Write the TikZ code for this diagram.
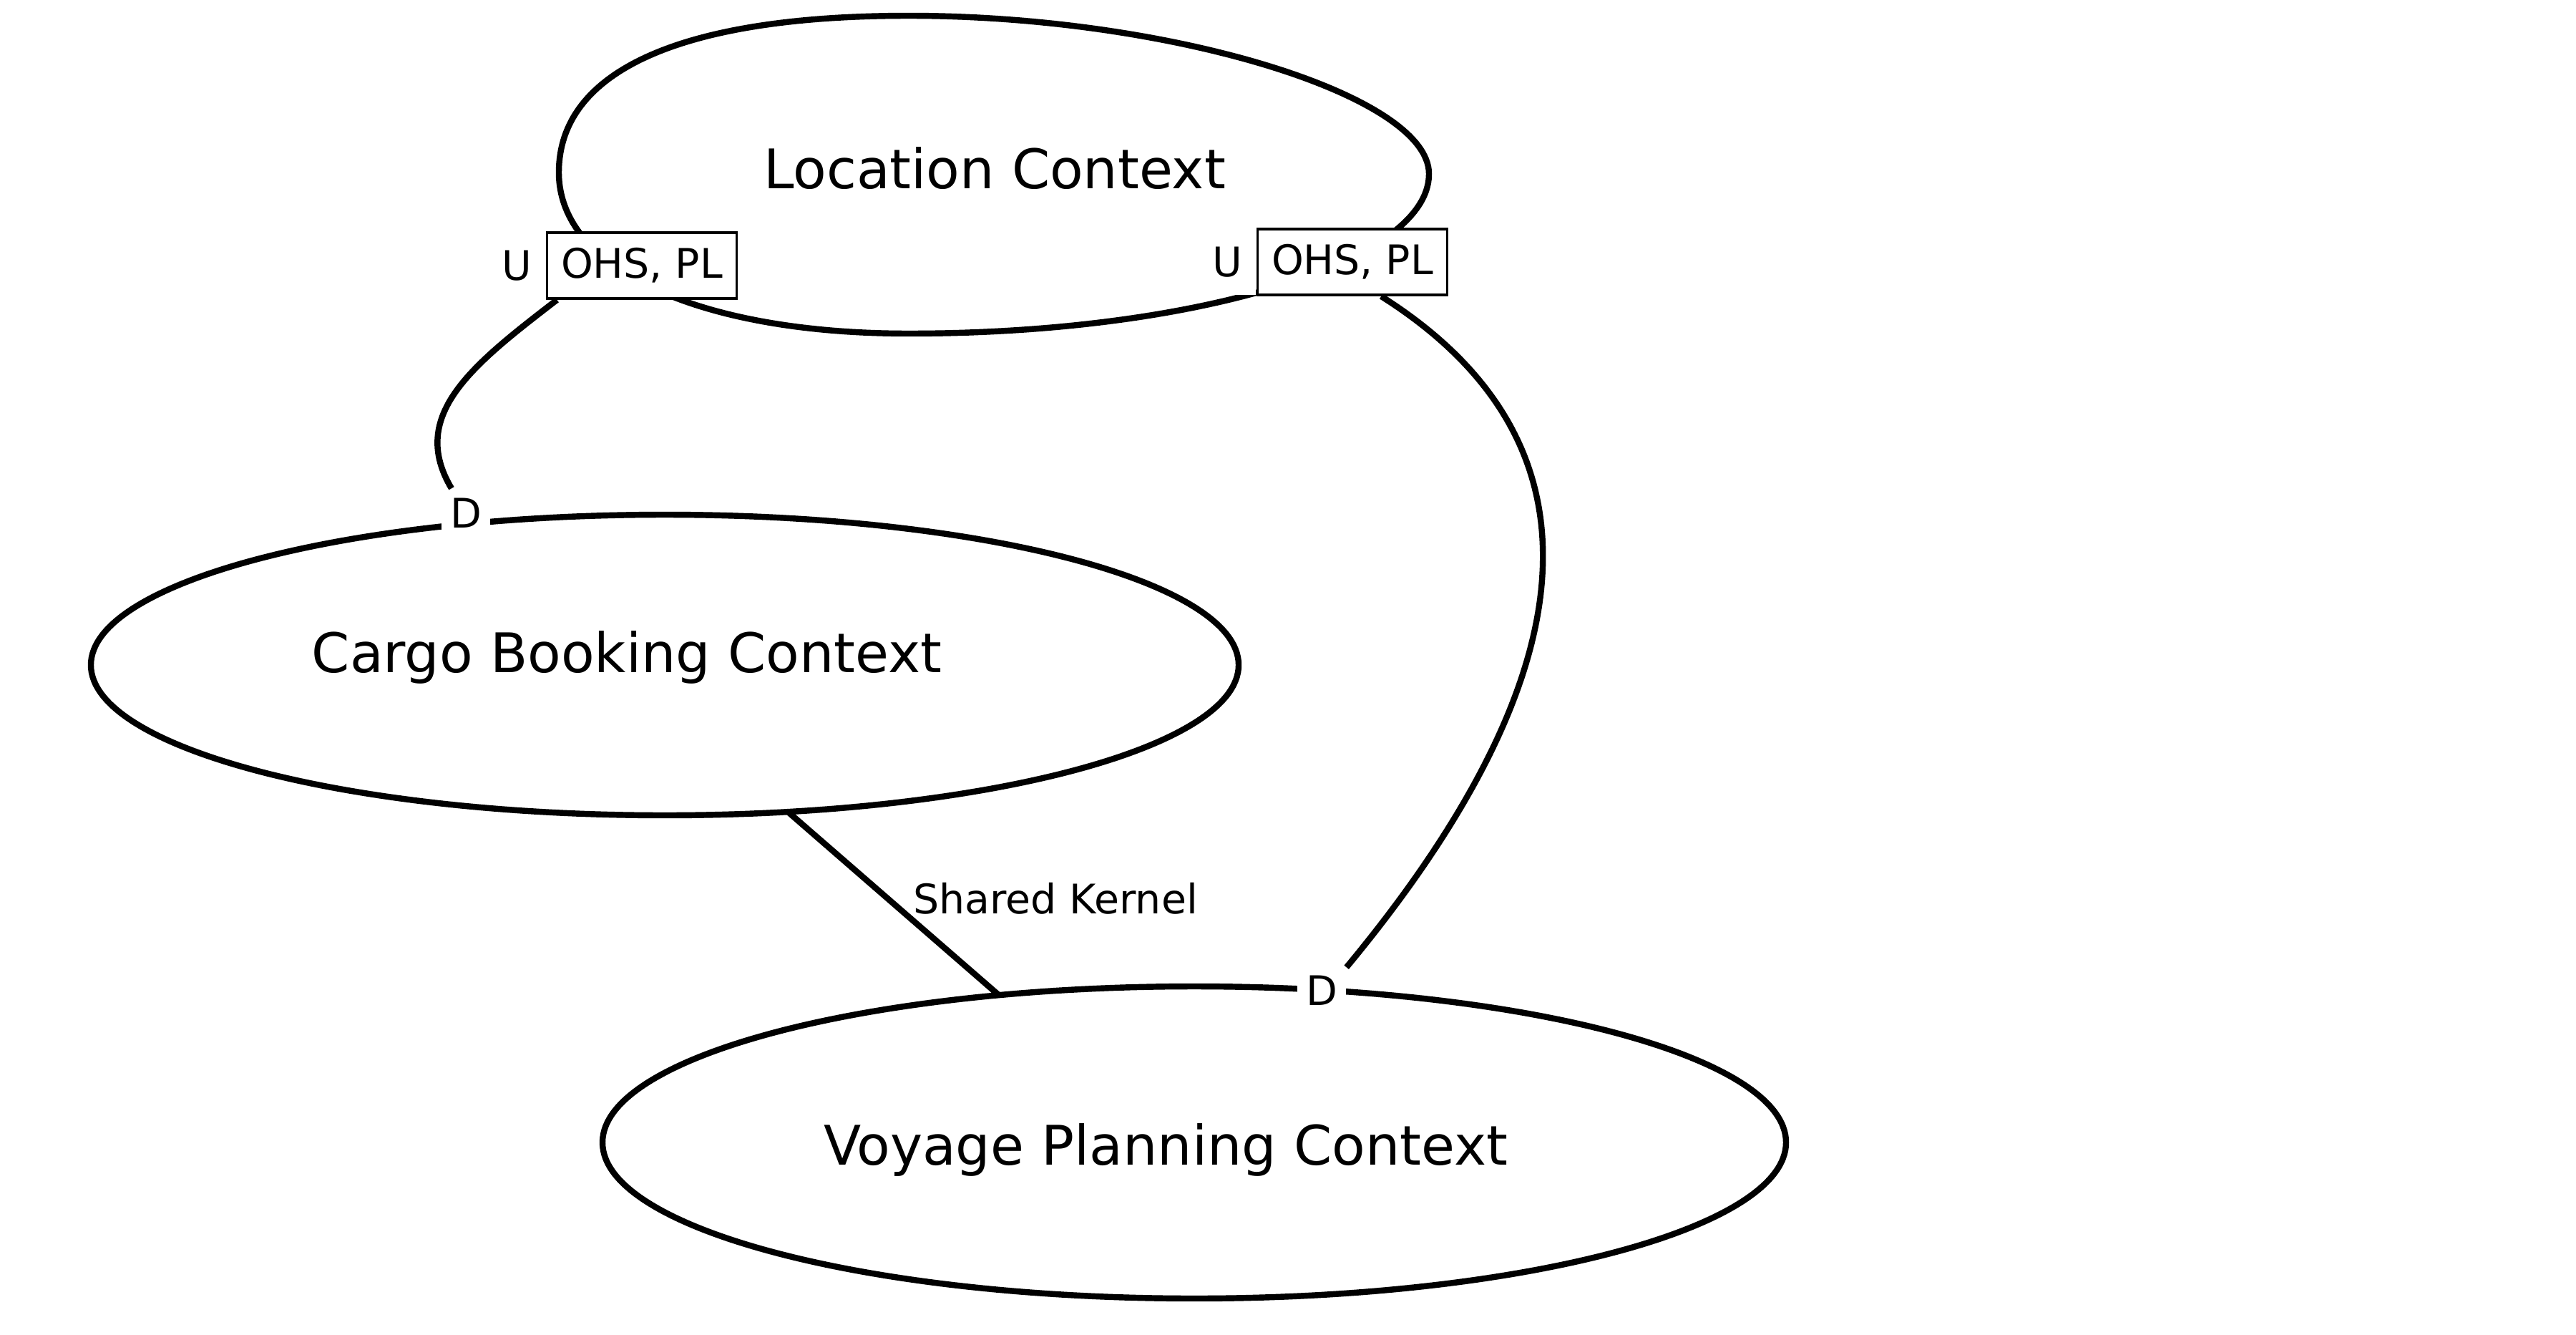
\documentclass[tikz,border=0pt]{standalone}
\usepackage{fontspec}
\setmainfont{DejaVu Sans}
\usetikzlibrary{shapes.geometric,positioning}

\newcommand{\bigtxt}{\fontsize{21.7}{26}\selectfont}
\newcommand{\smalltxt}{\fontsize{16.2}{19}\selectfont}

\begin{document}
\begin{tikzpicture}[
	ctx/.style={ellipse, draw, line width=2.4pt, inner sep=0pt, outer sep=0pt},
	ctxname/.style={font=\bigtxt},
	rel/.style={draw, line width=1.1pt, fill=white, font=\smalltxt, minimum width=2.65cm, minimum height=0.92cm, inner sep=0pt},
	tag/.style={fill=white, font=\smalltxt, inner sep=0pt},
	link/.style={line width=2.4pt}
]
	\useasboundingbox (0,0) rectangle (36,-18.65);

	% bounded contexts
	\draw[line width=2.4pt] (7.81,-2.41)
		.. controls (7.81,-0.99) and (9.52,-0.22) .. (12.70,-0.22)
		.. controls (16.34,-0.22) and (19.97,-1.33) .. (19.97,-2.43)
		.. controls (19.97,-3.66) and (16.72,-4.66) .. (12.70,-4.66)
		.. controls (9.77,-4.66) and (7.81,-3.76) .. cycle;
	\node[ctxname] (loc) at (13.90,-2.35) {Location Context};

	\node[ctx, minimum width=16.04cm, minimum height=4.20cm] (cargo) at (9.29,-9.29) {};
	\node[ctxname] (cargolbl) at (8.76,-9.18) {Cargo Booking Context};

	\node[ctx, minimum width=16.54cm, minimum height=4.36cm] (voyage) at (16.69,-15.96) {};
	\node[ctxname] (voyagelbl) at (16.29,-16.06) {Voyage Planning Context};

	% relationship markers
	\node[rel] (ohs1) at (8.97,-3.71) {OHS, PL};
	\node[tag, minimum width=0.8cm, minimum height=0.92cm, left=0pt of ohs1] (u1) {U};
	\node[rel] (ohs2) at (18.90,-3.66) {OHS, PL};
	\node[tag, minimum width=0.8cm, minimum height=0.92cm, left=0pt of ohs2] (u2) {U};
	\node[tag, minimum size=0.68cm] (d1) at (6.51,-7.17) {D};
	\node[tag, minimum width=0.68cm, minimum height=0.64cm] (d2) at (18.47,-13.84) {D};

	% relationships
	\draw[link] (ohs1.202) .. controls (6.60,-5.10) and (5.70,-5.80) .. (d1.120);
	\draw[link] (ohs2.-50) .. controls (23.20,-6.60) and (21.40,-10.40) .. (d2.north east);
	\draw[link] (cargo.-50) -- (voyage.143)
		node[pos=0.5, anchor=west, xshift=0.12cm, yshift=0.07cm, font=\smalltxt] (sk) {Shared Kernel};
\end{tikzpicture}
\end{document}
